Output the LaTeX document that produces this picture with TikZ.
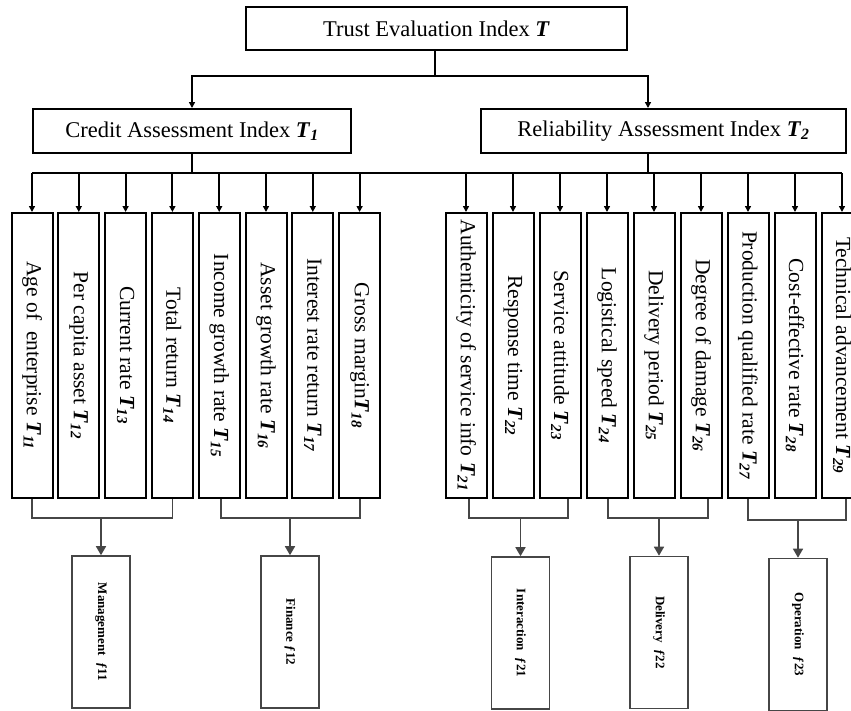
\documentclass[tikz,border=0pt]{standalone}
\usepackage{fontspec}
\setmainfont{Liberation Serif}
\usetikzlibrary{arrows.meta}
\newcommand{\TT}[1]{\textbf{\textit{T}}\textsubscript{\textbf{\textit{#1}}}}
\definecolor{gr}{RGB}{70,70,70}
\begin{document}
\begin{tikzpicture}[x=1pt,y=-1pt,
  box/.style={draw, line width=2pt, inner sep=0pt, font=\fontsize{22.5}{26}\selectfont},
  vbox/.style={box, rotate=-90, minimum width=285pt, minimum height=41pt, font=\fontsize{21.5}{25}\selectfont},
  gbox/.style={draw=gr, line width=1.6pt, inner sep=0pt, rotate=-90, minimum width=152pt, minimum height=58pt, font=\bfseries\fontsize{13}{15}\selectfont},
  conn/.style={line width=2pt},
  arr/.style={conn, -{Triangle[length=6pt,width=6pt]}},
  gconn/.style={draw=gr, line width=1.6pt},
  garr/.style={gconn, -{Triangle[length=9pt,width=10pt]}}]
\useasboundingbox (0,0) rectangle (851,710);
\clip (0,0) rectangle (851,710);

% top levels
\node[box, minimum width=381pt, minimum height=43pt] (top) at (436.5,28.5) {Trust Evaluation Index \textbf{\textit{T}}};
\node[box, minimum width=318pt, minimum height=44pt] (cred) at (192,131) {Credit Assessment Index \TT{1}};
\node[box, minimum width=365pt, minimum height=44pt] (rel) at (663.5,131) {Reliability Assessment Index \TT{2}};

\coordinate (tj) at (435,76);
\coordinate (rj) at (648,76);
\coordinate (cb) at (192,173);
\draw[conn] (tj |- top.south) -- (tj);
\draw[arr] (tj) -| (cred.north);
\draw[arr] (tj) -| (rel.north -| rj);
\draw[conn] (cred.south) -- (cb);
\draw[conn] (rel.south -| rj) -- (rj |- cb);

% credit indices
\foreach \i/\t in {1/{Age of~ enterprise \TT{11}},2/{Per capita asset \TT{12}},3/{Current rate \TT{13}},4/{Total return \TT{14}},5/{Income growth rate \TT{15}},6/{Asset growth rate \TT{16}},7/{Interest rate return \TT{17}},8/{Gross margin\TT{18}}}{
  \node[vbox] (c\i) at ({32+46.8*(\i-1)},355.5) {\t};
  \draw[arr] (c\i.west |- cb) -- (c\i.west);
}
% reliability indices
\foreach \i/\t in {1/{Authenticity of service info \TT{21}},2/{Response time \TT{22}},3/{Service attitude \TT{23}},4/{Logistical speed \TT{24}},5/{Delivery period \TT{25}},6/{Degree of damage \TT{26}},7/{Production qualified rate \TT{27}},8/{Cost-effective rate \TT{28}},9/{Technical advancement \TT{29}}}{
  \node[vbox] (r\i) at ({466+47*(\i-1)},355.5) {\t};
  \draw[arr] (r\i.west |- cb) -- (r\i.west);
}
\draw[conn] (c1.west |- cb) -- (r9.west |- cb);

% bottom groups
\node[gbox] (m1) at (101,632) {Management~ \textit{ƒ}11};
\node[gbox] (m2) at (290,632) {Finance \textit{ƒ}12};
\node[gbox] (m3) at (520.5,633) {Interaction~ \textit{ƒ}21};
\node[gbox] (m4) at (659,632.5) {Delivery~ \textit{ƒ}22};
\node[gbox] (m5) at (798,634.5) {Operation~ \textit{ƒ}23};

\draw[gconn] (c1.east) |- (0,518 -| c4.east) -- (c4.east);
\draw[garr] (m1.west |- 0,518) -- (m1.west);
\draw[gconn] (c5.east -| 221,0) |- (360,518) -- (c8.east -| 360,0);
\draw[garr] (m2.west |- 0,518) -- (m2.west);
\draw[gconn] (r1.east -| 469,0) |- (568,518) -- (r3.east -| 568,0);
\draw[garr] (m3.west |- 0,518) -- (m3.west);
\draw[gconn] (r4.east -| 608,0) |- (708,518) -- (r6.east -| 708,0);
\draw[garr] (m4.west |- 0,518) -- (m4.west);
\draw[gconn] (r7.east) |- (846,520) -- (r9.east -| 846,0);
\draw[garr] (m5.west |- 0,520) -- (m5.west);
\end{tikzpicture}
\end{document}
